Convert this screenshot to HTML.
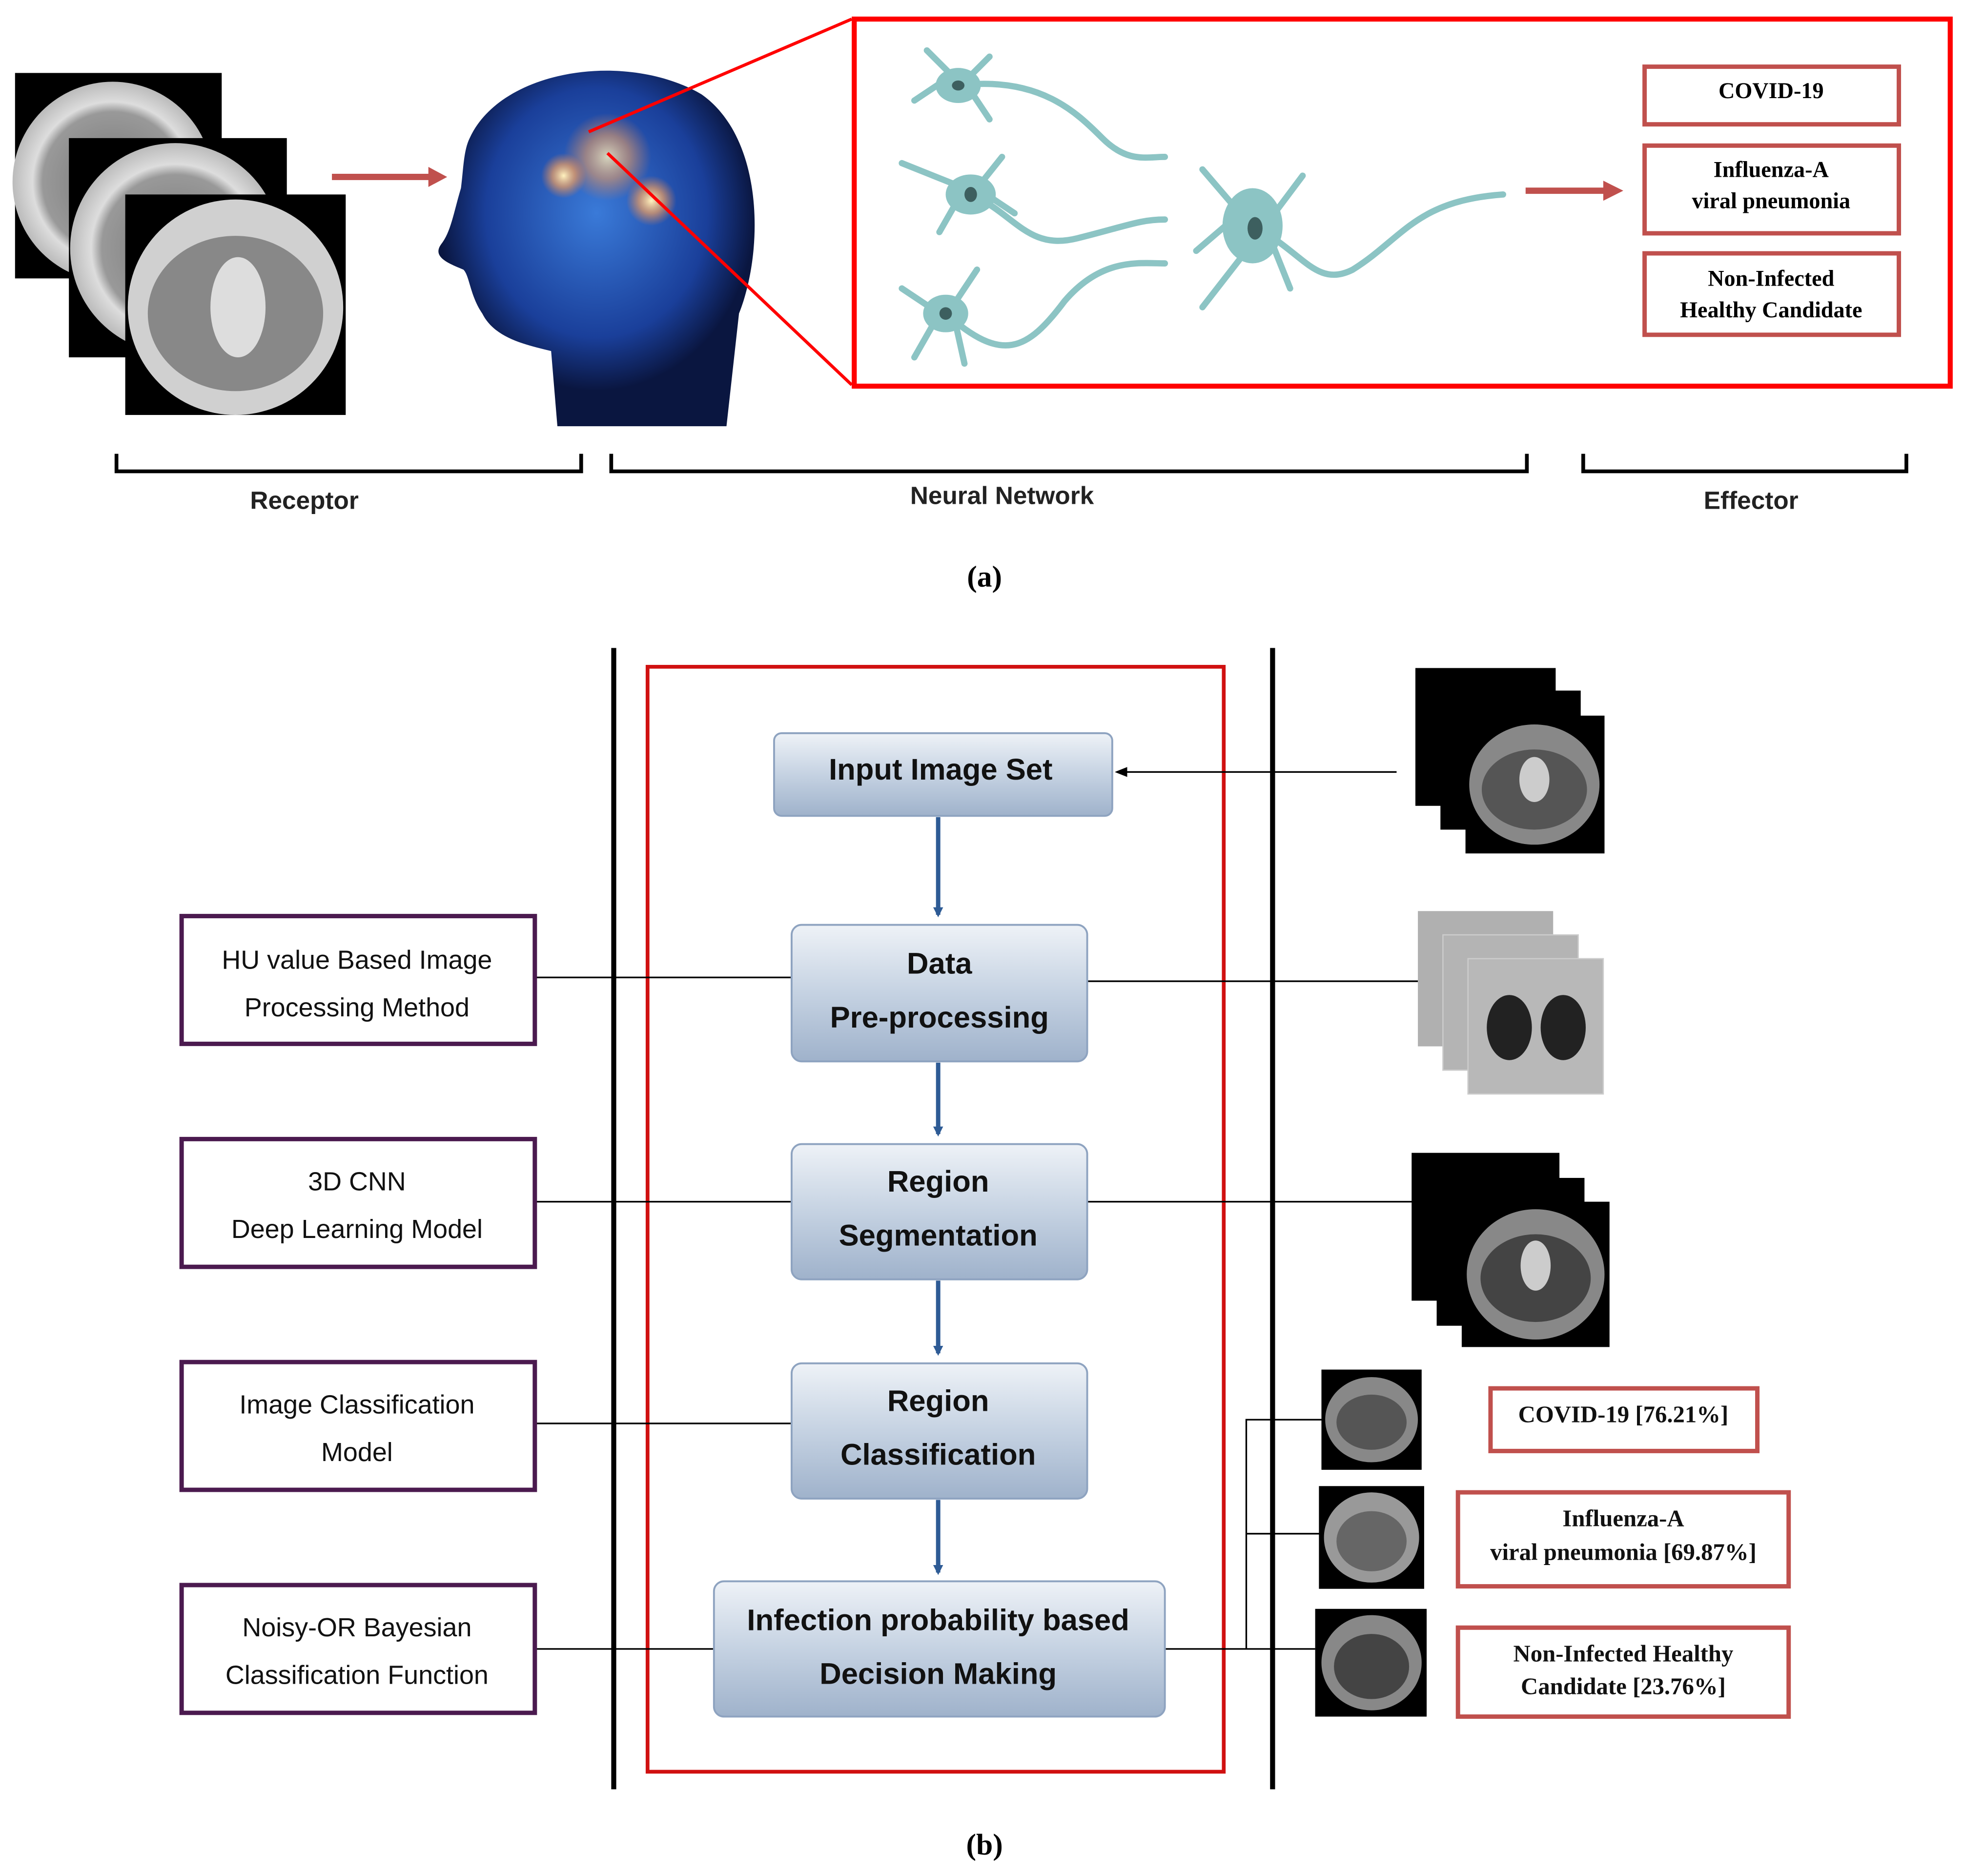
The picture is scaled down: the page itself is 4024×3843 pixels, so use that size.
<!DOCTYPE html>
<html><head><meta charset="utf-8"><style>
html,body{margin:0;padding:0;background:#fff;}
svg{display:block;}
.s{font-family:"Liberation Sans","DejaVu Sans",sans-serif;font-weight:bold;}
.t{font-family:"Liberation Serif",serif;font-weight:bold;}
</style></head><body>
<svg width="4024" height="3843" viewBox="0 0 1568 1497" xmlns="http://www.w3.org/2000/svg">
<defs>
<linearGradient id="bg" x1="0" y1="0" x2="0" y2="1">
<stop offset="0" stop-color="#eef2f7"/><stop offset="0.5" stop-color="#c5d2e2"/><stop offset="1" stop-color="#9fb2cb"/>
</linearGradient>
<radialGradient id="ct"><stop offset="0" stop-color="#777"/><stop offset="0.7" stop-color="#999"/><stop offset="0.8" stop-color="#ddd"/><stop offset="1" stop-color="#bbb"/></radialGradient>
<radialGradient id="hd" cx="0.5" cy="0.4"><stop offset="0" stop-color="#3a7ad8"/><stop offset="0.7" stop-color="#1a3f9a"/><stop offset="1" stop-color="#0a1640"/></radialGradient>
<radialGradient id="gl"><stop offset="0" stop-color="#fff3c0"/><stop offset="0.5" stop-color="#f0a060" stop-opacity="0.7"/><stop offset="1" stop-color="#f08040" stop-opacity="0"/></radialGradient>
<marker id="ab" markerWidth="8" markerHeight="8" refX="6" refY="4" orient="auto" markerUnits="userSpaceOnUse"><path d="M0,0 L8,4 L0,8 z" fill="#2e5b95"/></marker>
<marker id="ak" markerWidth="10" markerHeight="10" refX="8" refY="5" orient="auto" markerUnits="userSpaceOnUse"><path d="M0,1 L10,5 L0,9 z" fill="#000"/></marker>
</defs>
<!-- CT stack a -->
<g>
<rect x="12" y="58" width="165" height="164" fill="#000"/><circle cx="90" cy="145" r="80" fill="url(#ct)"/>
<rect x="55" y="110" width="174" height="175" fill="#000"/><circle cx="140" cy="198" r="84" fill="url(#ct)"/>
<rect x="100" y="155" width="176" height="176" fill="#000"/><circle cx="188" cy="245" r="86" fill="#d0d0d0"/><ellipse cx="188" cy="250" rx="70" ry="62" fill="#888"/><ellipse cx="190" cy="245" rx="22" ry="40" fill="#ddd"/>
</g>
<path d="M265,141 H345" stroke="#c0504d" stroke-width="5"/><path d="M342,133 L357,141 L342,149z" fill="#c0504d"/>
<!-- head -->
<path d="M375,110 C400,55 500,40 560,75 C610,110 610,200 590,250 L580,340 L445,340 L440,280 C420,275 395,270 385,250 C375,235 375,220 370,215 C358,210 345,205 352,195 C360,185 362,170 368,150 C370,135 370,120 375,110z" fill="url(#hd)"/>
<circle cx="485" cy="125" r="35" fill="url(#gl)" opacity="0.8"/><circle cx="520" cy="160" r="20" fill="url(#gl)"/><circle cx="450" cy="140" r="18" fill="url(#gl)"/>
<path d="M470,105 L680,15 M485,122 L680,307" stroke="#f00" stroke-width="2.5"/>
<rect x="682" y="15" width="875" height="293" fill="none" stroke="#f00" stroke-width="4"/>
<!-- neurons -->
<g stroke="#8cc4c4" stroke-width="5" fill="none" stroke-linecap="round">
<path d="M765,68 C830,60 860,90 880,110 C900,130 915,125 930,125"/>
<path d="M775,155 C810,170 820,200 860,190 C900,180 910,175 930,175"/>
<path d="M755,250 C800,290 820,280 850,240 C880,205 910,210 930,210"/>
<path d="M1000,180 C1040,200 1050,230 1080,215 C1120,190 1130,160 1200,155"/>
<path d="M740,40 L760,60 L730,80 M790,45 L770,65 L790,95 M720,130 L770,150 L750,185 M800,125 L780,150 L810,170 M720,230 L750,250 L730,285 M780,215 L760,245 L770,290 M960,135 L990,170 L955,200 M1040,140 L1010,180 L1030,230 M960,245 L995,200"/>
</g>
<g fill="#8cc4c4"><ellipse cx="765" cy="68" rx="18" ry="14"/><ellipse cx="775" cy="155" rx="20" ry="16"/><ellipse cx="755" cy="250" rx="18" ry="15"/><ellipse cx="1000" cy="180" rx="24" ry="30"/></g>
<g fill="#3d5f5f"><ellipse cx="765" cy="68" rx="5" ry="4"/><ellipse cx="775" cy="155" rx="5" ry="6"/><ellipse cx="755" cy="250" rx="5" ry="5"/><ellipse cx="1002" cy="182" rx="6" ry="9"/></g>
<path d="M1218,152 H1282" stroke="#c0504d" stroke-width="5"/><path d="M1280,144 L1296,152 L1280,160z" fill="#c0504d"/>
<g fill="#fff" stroke="#c0504d" stroke-width="3.5">
<rect x="1313" y="53" width="203" height="46"/><rect x="1313" y="116" width="203" height="70"/><rect x="1313" y="202" width="203" height="65"/></g>
<g class="t" font-size="18" text-anchor="middle" fill="#000">
<text x="1414" y="78">COVID-19</text><text x="1414" y="141">Influenza-A</text><text x="1414" y="166">viral pneumonia</text>
<text x="1414" y="228">Non-Infected</text><text x="1414" y="253">Healthy Candidate</text></g>
<g stroke="#000" stroke-width="3" fill="none">
<path d="M93,362 V376 H464 V362"/><path d="M488,362 V376 H1219 V362"/><path d="M1264,362 V376 H1522 V362"/></g>
<g class="s" font-size="20" text-anchor="middle" fill="#222">
<text x="243" y="406">Receptor</text><text x="800" y="402">Neural Network</text><text x="1398" y="406">Effector</text></g>
<text x="786" y="468" class="t" font-size="24" text-anchor="middle" font-weight="normal">(<tspan font-weight="bold">a</tspan>)</text>
<!-- part b -->
<path d="M490,517 V1428 M1016,517 V1428" stroke="#000" stroke-width="4"/>
<rect x="517" y="532" width="460" height="882" fill="none" stroke="#d01010" stroke-width="3"/>
<g stroke="#000" stroke-width="1.3" fill="none">
<path d="M427,780 H632 M427,959 H632 M427,1136 H632 M427,1316 H570"/>
<path d="M868,783 H1132 M868,959 H1128"/>
<path d="M930,1316 H995 V1133 H1055 M995,1224 H1055 M995,1316 H1050"/>
<path d="M1115,616 H892" marker-end="url(#ak)"/>
</g>
<g stroke="#2e5b95" stroke-width="3.5" marker-end="url(#ab)">
<path d="M749,652 V730"/><path d="M749,848 V905"/><path d="M749,1022 V1080"/><path d="M749,1197 V1255"/></g>
<g fill="url(#bg)" stroke="#8ea3c0" stroke-width="1.5">
<rect x="618" y="585" width="270" height="66" rx="6"/><rect x="632" y="738" width="236" height="109" rx="8"/>
<rect x="632" y="913" width="236" height="108" rx="8"/><rect x="632" y="1088" width="236" height="108" rx="8"/>
<rect x="570" y="1262" width="360" height="108" rx="8"/></g>
<g class="s" font-size="24" text-anchor="middle" fill="#111">
<text x="751" y="622">Input Image Set</text>
<text x="750" y="777">Data</text><text x="750" y="820">Pre-processing</text>
<text x="749" y="951">Region</text><text x="749" y="994">Segmentation</text>
<text x="749" y="1126">Region</text><text x="749" y="1169">Classification</text>
<text x="749" y="1301">Infection probability based</text><text x="749" y="1344">Decision Making</text></g>
<g fill="#fff" stroke="#4b1a4f" stroke-width="3.5">
<rect x="145" y="731" width="282" height="102"/><rect x="145" y="909" width="282" height="102"/>
<rect x="145" y="1087" width="282" height="102"/><rect x="145" y="1265" width="282" height="102"/></g>
<g font-family="Liberation Sans,sans-serif" font-size="21" text-anchor="middle" fill="#111">
<text x="285" y="773">HU value Based Image</text><text x="285" y="811">Processing Method</text>
<text x="285" y="950">3D CNN</text><text x="285" y="988">Deep Learning Model</text>
<text x="285" y="1128">Image Classification</text><text x="285" y="1166">Model</text>
<text x="285" y="1306">Noisy-OR Bayesian</text><text x="285" y="1344">Classification Function</text></g>
<!-- right images -->
<g>
<rect x="1130" y="533" width="112" height="110" fill="#000"/><rect x="1150" y="551" width="112" height="111" fill="#000"/>
<rect x="1170" y="571" width="111" height="110" fill="#000"/><ellipse cx="1225" cy="626" rx="52" ry="48" fill="#888"/><ellipse cx="1225" cy="630" rx="42" ry="32" fill="#555"/><ellipse cx="1225" cy="622" rx="12" ry="18" fill="#ccc"/>
<rect x="1132" y="727" width="108" height="108" fill="#b0b0b0"/><rect x="1152" y="746" width="108" height="108" fill="#b4b4b4" stroke="#ccc"/>
<rect x="1172" y="765" width="108" height="108" fill="#b8b8b8" stroke="#ccc"/><ellipse cx="1205" cy="820" rx="18" ry="26" fill="#222"/><ellipse cx="1248" cy="820" rx="18" ry="26" fill="#222"/>
<rect x="1127" y="920" width="118" height="118" fill="#000"/><rect x="1147" y="940" width="118" height="118" fill="#000"/>
<rect x="1167" y="959" width="118" height="116" fill="#000"/><ellipse cx="1226" cy="1017" rx="55" ry="52" fill="#888"/><ellipse cx="1226" cy="1020" rx="44" ry="35" fill="#444"/><ellipse cx="1226" cy="1010" rx="12" ry="20" fill="#ccc"/>
<rect x="1055" y="1093" width="80" height="80" fill="#000"/><ellipse cx="1095" cy="1133" rx="37" ry="34" fill="#888"/><ellipse cx="1095" cy="1135" rx="28" ry="22" fill="#555"/>
<rect x="1053" y="1186" width="84" height="82" fill="#000"/><ellipse cx="1095" cy="1227" rx="38" ry="36" fill="#999"/><ellipse cx="1095" cy="1230" rx="28" ry="24" fill="#666"/>
<rect x="1050" y="1284" width="89" height="86" fill="#000"/><ellipse cx="1095" cy="1327" rx="40" ry="38" fill="#888"/><ellipse cx="1095" cy="1330" rx="30" ry="26" fill="#444"/>
</g>
<g fill="#fff" stroke="#c0504d" stroke-width="3.5">
<rect x="1190" y="1108" width="213" height="50"/><rect x="1164" y="1191" width="264" height="75"/><rect x="1164" y="1299" width="264" height="71"/></g>
<g class="t" font-size="19" text-anchor="middle" fill="#111">
<text x="1296" y="1135">COVID-19 [76.21%]</text>
<text x="1296" y="1218">Influenza-A</text><text x="1296" y="1245">viral pneumonia [69.87%]</text>
<text x="1296" y="1326">Non-Infected  Healthy</text><text x="1296" y="1352">Candidate [23.76%]</text></g>
<text x="786" y="1480" class="t" font-size="24" text-anchor="middle" font-weight="normal">(<tspan font-weight="bold">b</tspan>)</text>
</svg>
</body></html>
